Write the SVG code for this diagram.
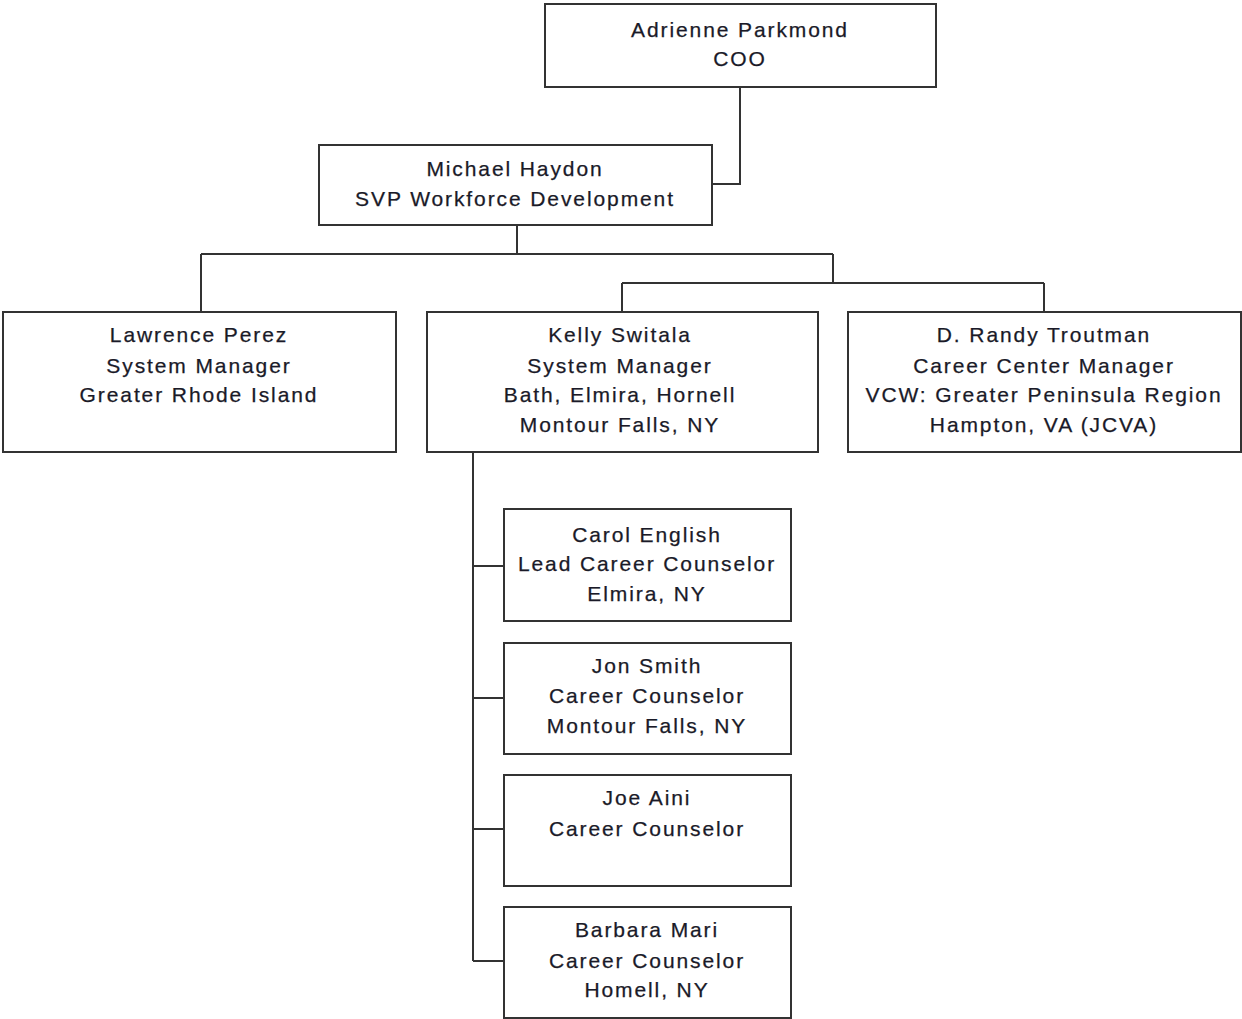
<svg xmlns="http://www.w3.org/2000/svg" width="1242" height="1019" viewBox="0 0 1242 1019">
<style>
rect.box{fill:#fff;stroke:#333;stroke-width:2}
.conn path{fill:none;stroke:#333;stroke-width:2}
text{font-family:"Liberation Sans",Arial,sans-serif;font-size:21px;letter-spacing:1.9px;fill:#1a1a28;stroke:#1a1a28;stroke-width:0.25;text-anchor:middle}
</style>
<rect width="1242" height="1019" fill="#fff"/>
<g class="conn">
<path d="M740,87 V184 H712"/>
<path d="M517,225 V254 M201,254 H833 M201,254 V312 M833,254 V283 M622,283 H1044 M622,283 V312 M1044,283 V312"/>
<path d="M473,452 V961 M473,566 H504 M473,698 H504 M473,829 H504 M473,961 H504"/>
</g>
<g id="n-coo"><rect class="box" x="545" y="4" width="391" height="83"/>
<text x="740" y="37">Adrienne Parkmond</text><text x="740" y="66">COO</text></g>
<g id="n-haydon"><rect class="box" x="319" y="145" width="393" height="80"/>
<text x="515" y="176">Michael Haydon</text><text x="515" y="206">SVP Workforce Development</text></g>
<g id="n-perez"><rect class="box" x="3" y="312" width="393" height="140"/>
<text x="199" y="342">Lawrence Perez</text><text x="199" y="373">System Manager</text><text x="199" y="402">Greater Rhode Island</text></g>
<g id="n-switala"><rect class="box" x="427" y="312" width="391" height="140"/>
<text x="620" y="342">Kelly Switala</text><text x="620" y="373">System Manager</text><text x="620" y="402">Bath, Elmira, Hornell</text><text x="620" y="432">Montour Falls, NY</text></g>
<g id="n-troutman"><rect class="box" x="848" y="312" width="393" height="140"/>
<text x="1044" y="342">D. Randy Troutman</text><text x="1044" y="373">Career Center Manager</text><text x="1044" y="402">VCW: Greater Peninsula Region</text><text x="1044" y="432">Hampton, VA (JCVA)</text></g>
<g id="n-english"><rect class="box" x="504" y="509" width="287" height="112"/>
<text x="647" y="542">Carol English</text><text x="647" y="571">Lead Career Counselor</text><text x="647" y="601">Elmira, NY</text></g>
<g id="n-smith"><rect class="box" x="504" y="643" width="287" height="111"/>
<text x="647" y="673">Jon Smith</text><text x="647" y="703">Career Counselor</text><text x="647" y="733">Montour Falls, NY</text></g>
<g id="n-aini"><rect class="box" x="504" y="775" width="287" height="111"/>
<text x="647" y="805">Joe Aini</text><text x="647" y="836">Career Counselor</text></g>
<g id="n-mari"><rect class="box" x="504" y="907" width="287" height="111"/>
<text x="647" y="937">Barbara Mari</text><text x="647" y="968">Career Counselor</text><text x="647" y="997">Homell, NY</text></g>
</svg>
